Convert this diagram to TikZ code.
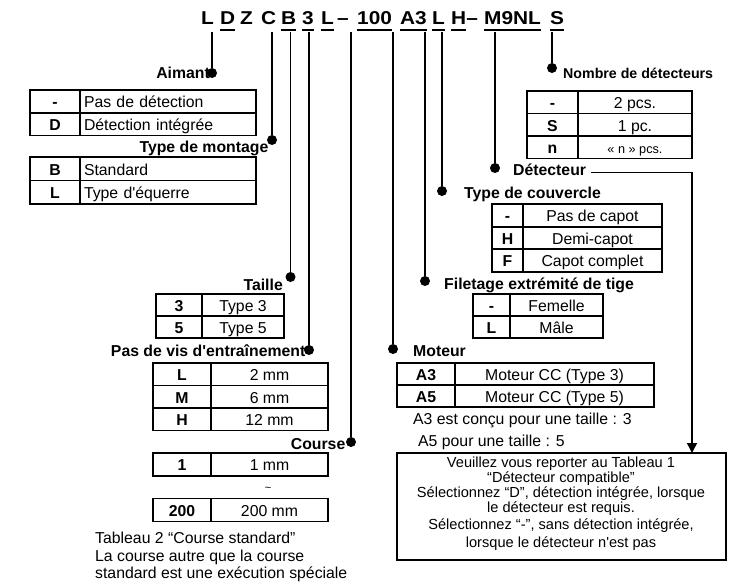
\documentclass[tikz,border=0pt]{standalone}
\usepackage{fontspec}
\setmainfont{Liberation Sans}
\newfontfamily\titlefont[FakeStretch=1.12]{Liberation Sans}
\usetikzlibrary{arrows.meta}
\newsavebox\ulbox
\newcommand\ulcode[1]{\sbox\ulbox{#1}\rlap{\rule[-6.5pt]{\wd\ulbox}{2pt}}\usebox\ulbox}

\begin{document}
\begin{tikzpicture}[x=1pt,y=-1pt,
  codetok/.style={font=\titlefont\fontsize{18.6}{20}\selectfont\bfseries,anchor=base west,inner sep=0},
  lbl/.style={font=\fontsize{15.8}{18}\selectfont\bfseries,inner sep=0},
  txt/.style={font=\fontsize{15.8}{18}\selectfont,inner sep=0},
  notetxt/.style={font=\fontsize{14.6}{16}\selectfont,inner sep=0,anchor=base},
  dot/.style={circle,fill,inner sep=0,minimum size=10pt},
  wire/.style={line width=1.4pt},
  cell/.style={draw,line width=1.8pt,anchor=north west,outer sep=0,inner sep=0,
   minimum height=22.5,text height=12.5pt,text depth=0pt,font=\fontsize{15.8}{18}\selectfont},
  keycell/.style={cell,font=\fontsize{15.8}{18}\selectfont\bfseries},
  valleft/.style={cell,align=left,inner xsep=4pt}]
  \useasboundingbox (0,0) rectangle (741,582);
  % reference code
  \node[codetok] (tL1) at (201,24.5) {L};
  \node[codetok] (tD) at (220,24.5) {\ulcode{D}};
  \node[codetok] (tZ) at (240,24.5) {Z};
  \node[codetok] (tC) at (261,24.5) {C};
  \node[codetok] (tB) at (281,24.5) {\ulcode{B}};
  \node[codetok] (t3) at (302,24.5) {\ulcode{3}};
  \node[codetok] (tL2) at (321,24.5) {\ulcode{L}};
  \node[codetok] (tDash) at (337,24.5) {–};
  \node[codetok] (tStroke) at (357,24.5) {\ulcode{100}};
  \node[codetok] (tA3) at (400,24.5) {\ulcode{A3}};
  \node[codetok] (tL3) at (432,24.5) {\ulcode{L}};
  \node[codetok] (tH) at (451,24.5) {\ulcode{H}–};
  \node[codetok] (tM9) at (484,24.5) {\ulcode{M9NL}};
  \node[codetok] (tS) at (550,24.5) {\ulcode{S}};
  \coordinate (top) at (0,31.5);

  % labels
  \node[lbl,anchor=base east] (lAim) at (210,78.3) {Aimant};
  \node[lbl,anchor=base east] (lMon) at (268.5,152.7) {Type de montage};
  \node[lbl,anchor=base east] (lTai) at (283,290) {Taille};
  \node[lbl,anchor=base east] (lPas) at (305.5,356.5) {Pas de vis d\textquotesingle entraînement};
  \node[lbl,anchor=base east] (lCou) at (345.5,449) {Course};
  \node[lbl,anchor=base west,font=\fontsize{14.2}{16}\selectfont\bfseries] (lNbr) at (563,78.3) {Nombre de détecteurs};
  \node[lbl,anchor=base west] (lDet) at (513,175) {Détecteur};
  \node[lbl,anchor=base west] (lCvc) at (464,198) {Type de couvercle};
  \node[lbl,anchor=base west] (lFil) at (444,289) {Filetage extrémité de tige};
  \node[lbl,anchor=base west] (lMot) at (413,356.5) {Moteur};

  % dots and leads
  \node[dot] (dAim) at (212,73) {};
  \node[dot] (dMon) at (272,140) {};
  \node[dot] (dTai) at (290.5,277) {};
  \node[dot] (dPas) at (309,350) {};
  \node[dot] (dCou) at (351,442) {};
  \node[dot] (dMot) at (393,349) {};
  \node[dot] (dFil) at (425,281) {};
  \node[dot] (dCvc) at (442,191) {};
  \node[dot] (dDet) at (495,168) {};
  \node[dot] (dNbr) at (552,68) {};
  \draw[wire] (dAim) -- (dAim |- top);
  \draw[wire] (dMon) -- (dMon |- top);
  \draw[wire] (dTai) -- (dTai |- top);
  \draw[wire] (dPas) -- (dPas |- top);
  \draw[wire] (dCou) -- (dCou |- top);
  \draw[wire] (dMot) -- (dMot |- top);
  \draw[wire] (dFil) -- (dFil |- top);
  \draw[wire] (dCvc) -- (dCvc |- top);
  \draw[wire] (dDet) -- (dDet |- top);
  \draw[wire] (dNbr) -- (dNbr |- top);

  % left tables
  \node[keycell,minimum width=50] (aimK1) at (30,90) {-};
  \node[valleft,minimum width=176,text width=168] (aimV1) at (80,90) {Pas de détection};
  \node[keycell,minimum width=50] (aimK2) at (30,113) {D};
  \node[valleft,minimum width=176,text width=168] (aimV2) at (80,113) {Détection intégrée};
  \node[keycell,minimum width=50,minimum height=23.5] (monK1) at (30,157) {B};
  \node[valleft,minimum width=176,text width=168,minimum height=23.5] (monV1) at (80,157) {Standard};
  \node[keycell,minimum width=50,minimum height=23.5] (monK2) at (30,180.5) {L};
  \node[valleft,minimum width=176,text width=168,minimum height=23.5] (monV2) at (80,180.5) {Type d\textquotesingle équerre};
  \node[keycell,minimum width=46,minimum height=22] (taiK1) at (156,294) {3};
  \node[cell,minimum width=82,minimum height=22] (taiV1) at (202,294) {Type 3};
  \node[keycell,minimum width=46,minimum height=22] (taiK2) at (156,316) {5};
  \node[cell,minimum width=82,minimum height=22] (taiV2) at (202,316) {Type 5};
  \node[keycell,minimum width=58] (pasK1) at (153,363) {L};
  \node[cell,minimum width=117] (pasV1) at (211,363) {2 mm};
  \node[keycell,minimum width=58] (pasK2) at (153,385.5) {M};
  \node[cell,minimum width=117] (pasV2) at (211,385.5) {6 mm};
  \node[keycell,minimum width=58] (pasK3) at (153,408) {H};
  \node[cell,minimum width=117] (pasV3) at (211,408) {12 mm};
  \node[keycell,minimum width=58,minimum height=23] (couK1) at (153,453) {1};
  \node[cell,minimum width=117,minimum height=23] (couV1) at (211,453) {1 mm};
  \node[txt,font=\fontsize{11}{12}\selectfont] (couTilde) at (268,489) {\textasciitilde};
  \node[keycell,minimum width=58,minimum height=23] (couK2) at (153,498.5) {200};
  \node[cell,minimum width=117,minimum height=23] (couV2) at (211,498.5) {200 mm};
  \node[txt,anchor=base west] (tab2a) at (95,543) {Tableau 2 “Course standard”};
  \node[txt,anchor=base west] (tab2b) at (95,561) {La course autre que la course};
  \node[txt,anchor=base west] (tab2c) at (95,578) {standard est une exécution spéciale};

  % right tables
  \node[keycell,minimum width=51] (nbrK1) at (527,91) {-};
  \node[cell,minimum width=114] (nbrV1) at (578,91) {2 pcs.};
  \node[keycell,minimum width=51] (nbrK2) at (527,113.5) {S};
  \node[cell,minimum width=114] (nbrV2) at (578,113.5) {1 pc.};
  \node[keycell,minimum width=51] (nbrK3) at (527,136) {n};
  \node[cell,minimum width=114,font=\fontsize{12.7}{14}\selectfont] (nbrV3) at (578,136) {« n » pcs.};
  \node[keycell,minimum width=31,minimum height=22.7] (cvcK1) at (492,204) {-};
  \node[cell,minimum width=139,minimum height=22.7] (cvcV1) at (523,204) {Pas de capot};
  \node[keycell,minimum width=31,minimum height=22.7] (cvcK2) at (492,226.7) {H};
  \node[cell,minimum width=139,minimum height=22.7] (cvcV2) at (523,226.7) {Demi-capot};
  \node[keycell,minimum width=31,minimum height=22.7] (cvcK3) at (492,249.3) {F};
  \node[cell,minimum width=139,minimum height=22.7] (cvcV3) at (523,249.3) {Capot complet};
  \node[keycell,minimum width=37,minimum height=22] (filK1) at (473,294) {-};
  \node[cell,minimum width=93,minimum height=22] (filV1) at (510,294) {Femelle};
  \node[keycell,minimum width=37,minimum height=22] (filK2) at (473,316) {L};
  \node[cell,minimum width=93,minimum height=22] (filV2) at (510,316) {Mâle};
  \node[keycell,minimum width=58,minimum height=22] (motK1) at (397,363) {A3};
  \node[cell,minimum width=199,minimum height=22] (motV1) at (455,363) {Moteur CC (Type 3)};
  \node[keycell,minimum width=58,minimum height=22] (motK2) at (397,385) {A5};
  \node[cell,minimum width=199,minimum height=22] (motV2) at (455,385) {Moteur CC (Type 5)};
  \node[txt,anchor=base west] (motA3) at (413,424.5) {A3 est conçu pour une taille : 3};
  \node[txt,anchor=base west] (motA5) at (418,446) {A5 pour une taille : 5};

  % detector note
  \node[draw,line width=1.8pt,anchor=north west,outer sep=0,inner sep=0,
    minimum width=329,minimum height=107] (note) at (397,453) {};
  \node[notetxt] (note1) at (561,467) {Veuillez vous reporter au Tableau 1};
  \node[notetxt] (note2) at (561,482) {“Détecteur compatible”};
  \node[notetxt] (note3) at (561,497) {Sélectionnez “D”, détection intégrée, lorsque};
  \node[notetxt] (note4) at (561,512) {le détecteur est requis.};
  \node[notetxt] (note5) at (561,529.5) {Sélectionnez “-”, sans détection intégrée,};
  \node[notetxt] (note6) at (561,547.5) {lorsque le détecteur n\textquotesingle est pas};
  \coordinate (detTurn) at (692,172.7);
  \draw[wire,-{Triangle[length=10pt,width=10pt]}] ([xshift=5pt,yshift=2.3pt]lDet.base east) -- (detTurn) -- (detTurn |- note.north);
\end{tikzpicture}
\end{document}
